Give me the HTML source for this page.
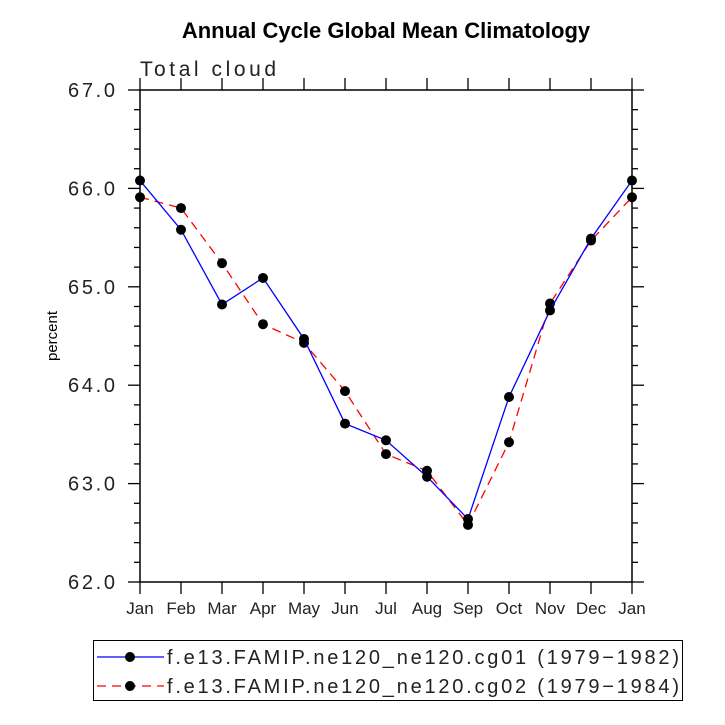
<!DOCTYPE html>
<html><head><meta charset="utf-8"><style>body{margin:0;background:#fff}svg{display:block;font-family:"Liberation Sans",sans-serif}</style></head>
<body>
<svg id="c" width="725" height="725" viewBox="0 0 725 725">
<text x="386" y="38" text-anchor="middle" font-size="22" font-weight="bold">Annual Cycle Global Mean Climatology</text>
<text x="140" y="76" font-size="21" fill="#222" textLength="136">Total cloud</text>
<text transform="translate(57,336) rotate(-90)" text-anchor="middle" font-size="15">percent</text>
<g id="axes"></g><g id="series"></g>
<rect x="93.5" y="640.5" width="589" height="60" fill="none" stroke="#000"/>
<g>
<line x1="97" y1="657" x2="164" y2="657" stroke="#00f" stroke-width="1.3"/><circle cx="130" cy="657" r="5" fill="#000"/>
<text x="167" y="664" font-size="20" textLength="512" fill="#222">f.e13.FAMIP.ne120_ne120.cg01 (1979−1982)</text></g>
<g>
<line x1="97" y1="686" x2="164" y2="686" stroke="#f00" stroke-width="1.3" stroke-dasharray="9,6"/><circle cx="130" cy="686" r="5" fill="#000"/>
<text x="167" y="693" font-size="20" textLength="512" fill="#222">f.e13.FAMIP.ne120_ne120.cg02 (1979−1984)</text></g>
</svg>
<script>
const months=["Jan","Feb","Mar","Apr","May","Jun","Jul","Aug","Sep","Oct","Nov","Dec","Jan"];
const cg01=[66.08,65.58,64.82,65.09,64.47,63.61,63.44,63.07,62.64,63.88,64.76,65.49,66.08];
const cg02=[65.91,65.80,65.24,64.62,64.43,63.94,63.30,63.13,62.58,63.42,64.83,65.47,65.91];
const yTicks=["62.0","63.0","64.0","65.0","66.0","67.0"];
const NS="http://www.w3.org/2000/svg";
const L=140,R=632,T=90,B=582,ymin=62,ymax=67;
const X=i=>L+i*(R-L)/(months.length-1);
const Y=v=>B-(v-ymin)/(ymax-ymin)*(B-T);
function mk(t,a,p){const e=document.createElementNS(NS,t);for(const k in a)e.setAttribute(k,a[k]);p.appendChild(e);return e;}
const ax=document.getElementById('axes');
const fr=mk('rect',{x:L,y:T,width:R-L,height:B-T,fill:'none',stroke:'#000','stroke-width':1.5},ax);


months.forEach((m,i)=>{const x=X(i);
mk('line',{x1:x,y1:B,x2:x,y2:B+12,stroke:'#000','stroke-width':1.3},ax);
mk('line',{x1:x,y1:T,x2:x,y2:T-12,stroke:'#000','stroke-width':1.3},ax);
const t=mk('text',{x:x,y:B+32,'text-anchor':'middle','font-size':17,fill:'#222'},ax);t.textContent=m;

});
for(let v=ymin;v<=ymax+1e-9;v+=0.2){const y=Y(v);const maj=Math.abs(v-Math.round(v))<1e-6;const len=maj?12:6;
mk('line',{x1:L,y1:y,x2:L-len,y2:y,stroke:'#000','stroke-width':1.3},ax);
mk('line',{x1:R,y1:y,x2:R+len,y2:y,stroke:'#000','stroke-width':1.3},ax);}
yTicks.forEach(s=>{const t=mk('text',{x:68,y:Y(parseFloat(s))+7,'font-size':20,fill:'#222',textLength:47},ax);t.textContent=s;

});
const sg=document.getElementById('series');
function draw(d,col,dash,name){const g=mk('g',{},sg);


const pl=mk('polyline',{points:d.map((v,i)=>X(i)+','+Y(v)).join(' '),fill:'none',stroke:col,'stroke-width':1.3},g);
if(dash)pl.setAttribute('stroke-dasharray',dash);
d.forEach((v,i)=>{const c=mk('circle',{cx:X(i),cy:Y(v),r:5,fill:'#000'},g);

});}
draw(cg02,'#f00','9,6','series-cg02');
draw(cg01,'#00f',null,'series-cg01');
</script>
</body></html>
